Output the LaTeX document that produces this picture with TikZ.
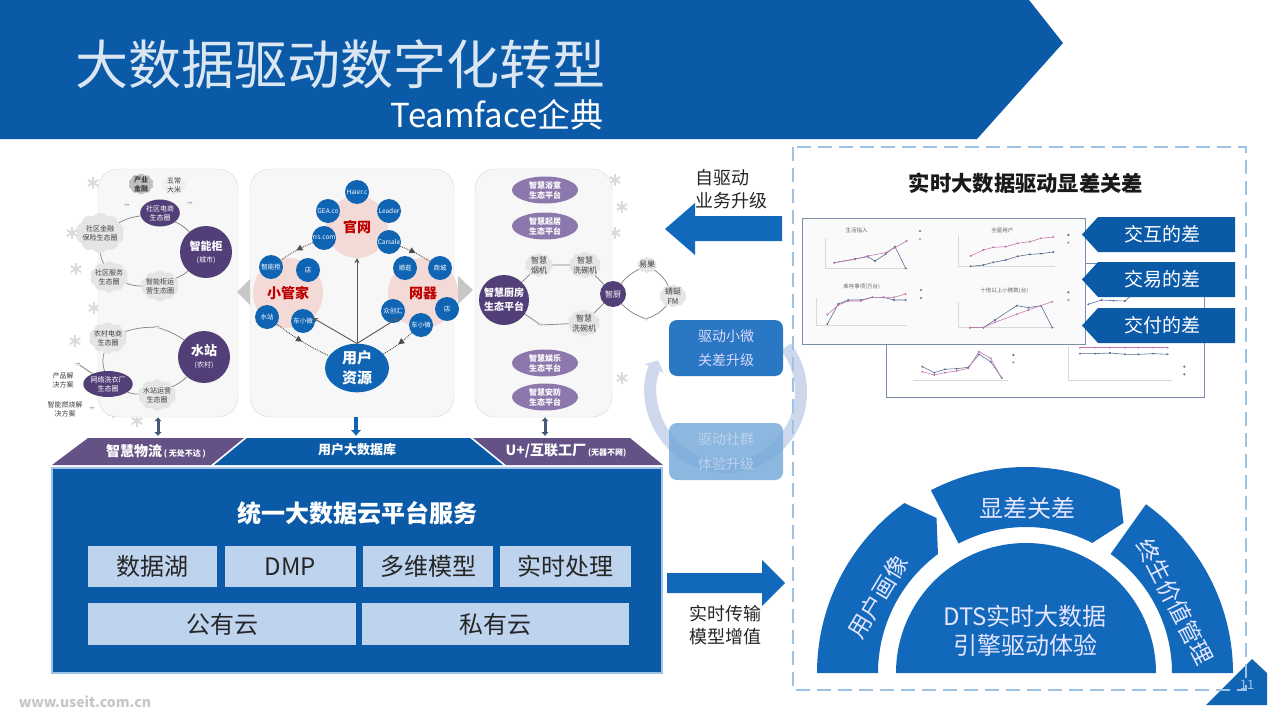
\documentclass[tikz,border=0pt]{standalone}
\usepackage{fontspec}
\setmainfont{Noto Sans CJK SC}
\usetikzlibrary{arrows.meta,shapes.geometric,shapes.symbols,decorations.markings}
\definecolor{bandblue}{HTML}{0B5AA8}
\definecolor{midblue}{HTML}{0F64B4}
\definecolor{archblue}{HTML}{1269BC}
\definecolor{cellblue}{HTML}{BDD3EE}
\definecolor{darkplum}{HTML}{533F78}
\definecolor{softplum}{HTML}{8D78AE}
\definecolor{rosefill}{HTML}{F3DAD6}
\definecolor{ringblue}{HTML}{CDD8EC}
\definecolor{framelight}{HTML}{9DC3E6}
\definecolor{linegray}{HTML}{596E96}
\definecolor{linepink}{HTML}{C77BAE}
\newcommand{\fs}[2]{\fontsize{#1}{#2}\selectfont}
\tikzset{
    panelbox/.style={draw=black!15,fill=black!3,rounded corners=20pt,inner sep=0pt},
    plumball/.style={circle,fill=darkplum,text=white,align=center,inner sep=0pt},
    plumoval/.style={ellipse,fill=darkplum,text=white,align=center,inner sep=0pt,font=\fs{7}{9}},
    softoval/.style={ellipse,fill=softplum,text=white,align=center,inner sep=0pt,minimum width=66pt,minimum height=27pt,font=\fs{8}{10}\bfseries},
    puff/.style={cloud,cloud puffs=10,cloud puff arc=110,aspect=1.3,fill=black!10,text=black!75,align=center,inner sep=-1.5pt,font=\fs{7}{9}},
    rosecircle/.style={circle,fill=rosefill,text=red!75!black,inner sep=0pt,font=\fs{14}{16}\bfseries},
    bluedot/.style={circle,fill=midblue,text=white,inner sep=0pt,minimum size=24pt,font=\fs{6.5}{8}},
    linkline/.style={draw=black!50,line width=.7pt},
    pushline/.style={draw=black!65,line width=.9pt,-{Stealth[length=5pt,width=5pt]}},
    dotline/.style={draw=black!70,line width=.9pt,densely dotted,postaction={decorate},
        decoration={markings,mark=at position .5 with {\arrow{Triangle[length=6pt,width=6pt]}}}},
    cellbox/.style={fill=cellblue,text=black!85,inner sep=0pt,minimum height=41pt,font=\fs{24}{28}},
    linkbar/.style={draw=#1,line width=3pt,{Latex[length=4pt,width=8pt]}-{Latex[length=4pt,width=8pt]}},
    tagarrow/.style={fill=bandblue},
    chartgray/.style={draw=linegray,line width=.6pt,mark=*,mark size=.6pt},
    chartpink/.style={draw=linepink,line width=.6pt,mark=*,mark size=.6pt},
    chartaxis/.style={draw=black!15,line width=.4pt},
    charthead/.style={text=black!60,inner sep=0pt,font=\fs{5.5}{6}},
    flake/.style={draw=black!14,line width=2pt},
}
\newcommand{\snowflake}[2]{\foreach \a in {30,90,150} \draw[flake] ({#1+6*cos(\a)},{#2+6*sin(\a)}) -- ({#1-6*cos(\a)},{#2-6*sin(\a)});}
\begin{document}
\begin{tikzpicture}[x=1pt,y=-1pt]
    \useasboundingbox (0,0) rectangle (1269,709);
    \fill[white] (0,0) rectangle (1269,709);
    % header
    \fill[bandblue] (0,0) -- (1029,0) -- (1063,43) -- (977,139) -- (0,139) -- cycle;
    \node[text=white!85!bandblue,inner sep=0pt,font=\fs{53}{60}] (title) at (340,64) {大数据驱动数字化转型};
    \node[text=white,inner sep=0pt,font=\fs{33}{38},anchor=east] (subtitle) at (604,115) {Teamface企典};
    % three panels
    \foreach \x/\y in {93/183,72/233,76/269,94/308,75/341,113/412,137/421,622/207,615/180,615/233,602/345,622/378,588/378,602/407} {
        \snowflake{\x}{\y}
    }
    \node[panelbox,minimum width=140pt,minimum height=248pt] (leftpanel) at (168,293) {};
    \node[panelbox,minimum width=204pt,minimum height=248pt] (midpanel) at (352,293) {};
    \node[panelbox,minimum width=137pt,minimum height=248pt] (rightpanel) at (543.5,293) {};
    \fill[black!22] (250,279) -- (237,292) -- (250,305) -- cycle;
    \fill[black!22] (458,276) -- (473,290) -- (458,304) -- cycle;
    % left panel
    \node[puff,fill=black!25,font=\fs{7}{9}\bfseries] (chanye) at (141,184) {产业\\金融};
    \node[puff,fill=black!6] (wuchang) at (174,185) {五常\\大米};
    \node[puff] (dotsa) at (127,205) {...};
    \node[puff] (dotsb) at (190,203) {...};
    \node[plumoval,minimum width=38pt,minimum height=27pt] (dianshang) at (160,213) {社区电商\\生态圈};
    \node[puff] (jinrong) at (100,233) {社区金融\\保险生态圈};
    \node[plumball,minimum size=52pt] (guizi) at (206,252) {{\fs{11}{15}\bfseries 智能柜}\\{\fs{7}{10}(城市)}};
    \node[puff] (fuwu) at (109,277) {社区服务\\生态圈};
    \node[puff] (yunying) at (160,286) {智能柜运\\营生态圈};
    \node[puff] (dotsc) at (157,327) {...};
    \node[plumball,minimum size=52pt] (shuizhan) at (204,357) {{\fs{13}{16}\bfseries 水站}\\{\fs{7}{10}(农村)}};
    \node[puff] (nongcun) at (108,338) {农村电商\\生态圈};
    \node[puff] (dotsd) at (78,364) {...};
    \node[plumoval,minimum width=36pt,minimum height=26pt] (xiyi) at (108,384) {网络洗衣厂\\生态圈};
    \node[puff] (szyunying) at (157,395) {水站运营\\生态圈};
    \node[puff] (dotse) at (92,408) {...};
    \node[fill=white,text=black!75,inner sep=1pt,align=center,font=\fs{7}{9}] (chanpin) at (63,380) {产品解\\决方案};
    \node[fill=white,text=black!75,inner sep=1pt,align=center,font=\fs{7}{9}] (ranshao) at (65,409) {智能燃烧解\\决方案};
    \draw[linkline] (dianshang) to[bend left=10] (guizi);
    \draw[linkline] (dianshang) to[bend right=10] (jinrong);
    \draw[linkline] (jinrong) to[bend right=10] (fuwu);
    \draw[linkline] (fuwu) to[bend right=10] (yunying);
    \draw[linkline] (yunying) to[bend right=10] (guizi);
    \draw[linkline] (dotsc) to[bend left=8] (shuizhan);
    \draw[linkline] (dotsc) to[bend right=8] (nongcun);
    \draw[linkline] (nongcun) to[bend right=15] (xiyi);
    \draw[linkline] (dotsd) -- (xiyi);
    \draw[linkline] (xiyi) to[bend right=10] (szyunying);
    \draw[linkline] (szyunying) to[bend right=10] (shuizhan);
    % middle panel
    \node[rosecircle,minimum size=62pt] (guanwang) at (357,227) {官网};
    \node[rosecircle,minimum size=70pt] (guanjia) at (288,293) {小管家};
    \node[rosecircle,minimum size=70pt] (wangqi) at (423,293) {网器};
    \foreach \name/\x/\y/\txt in {haier/357/192/Haier.c,gea/328/211/GEA.co,leader/389/211/Leader,rrs/324/238/rrs.com,carsale/389/242/Carsale,
        zng/271/267/智能柜,dianl/308/270/店,shui/267/317/水站,chel/303/321/车小微,
        shun/405/268/顺逛,shang/440/268/商城,zhong/393/311/众创汇,dianr/447/309/店,cher/421/325/车小微} {
        \node[bluedot] (\name) at (\x,\y) {\txt};
    }
    \node[ellipse,fill=midblue,text=white,align=center,inner sep=0pt,minimum width=64pt,minimum height=48pt,font=\fs{15}{20}\bfseries] (yonghu) at (357,368) {用户\\资源};
    \draw[pushline] (yonghu.north) -- (guanjia.south east);
    \draw[pushline] (yonghu.north) -- (guanwang.south);
    \draw[pushline] (yonghu.north) -- (wangqi.south west);
    \draw[dotline] (rrs) to[bend right=6] (zng);
    \draw[dotline] (carsale) to[bend left=6] (shang);
    \draw[dotline] (shui) to[bend right=6] (yonghu);
    \draw[dotline] (cher) to[bend left=6] (yonghu);
    % right panel
    \node[softoval] (yushi) at (545,190) {智慧浴室\\生态平台};
    \node[softoval] (qiju) at (545,226) {智慧起居\\生态平台};
    \node[softoval] (yule) at (545,363) {智慧娱乐\\生态平台};
    \node[softoval] (anfang) at (545,397) {智慧安防\\生态平台};
    \node[plumball,minimum size=50pt,font=\fs{10}{14}\bfseries] (chufang) at (504,300) {智慧厨房\\生态平台};
    \node[puff,font=\fs{8}{10}] (yanji) at (539,265) {智慧\\烟机};
    \node[puff,font=\fs{8}{10}] (xiwana) at (585,265) {智慧\\洗碗机};
    \node[puff] (dotsf) at (541,325) {...};
    \node[puff,font=\fs{8}{10}] (xiwanb) at (584,323) {智慧\\洗碗机};
    \node[plumball,minimum size=26pt,font=\fs{8}{10}] (zhichu) at (613,294) {智厨};
    \node[puff,font=\fs{8}{10}] (yiguo) at (647,265) {易果};
    \node[puff,font=\fs{8}{10}] (qingting) at (673,296) {蜻蜓\\FM};
    \node[puff] (dotsg) at (646,319) {...};
    \draw[linkline] (chufang) -- (yanji);
    \draw[linkline] (yanji) -- (xiwana);
    \draw[linkline] (xiwana) -- (zhichu);
    \draw[linkline] (zhichu) -- (xiwanb);
    \draw[linkline] (xiwanb) -- (dotsf);
    \draw[linkline] (dotsf) -- (chufang);
    \draw[linkline] (zhichu) to[bend left=12] (yiguo);
    \draw[linkline] (yiguo) to[bend left=15] (qingting);
    \draw[linkline] (qingting) to[bend left=15] (dotsg);
    \draw[linkline] (dotsg) to[bend left=12] (zhichu);
    % band under the panels
    \fill[darkplum!90!white] (52,465) -- (88,438) -- (244,438) -- (211,465) -- cycle;
    \fill[bandblue] (214,465) -- (247,438) -- (470,438) -- (503,465) -- cycle;
    \fill[darkplum!90!white] (506,465) -- (473,438) -- (630,438) -- (663,465) -- cycle;
    \node[text=white,inner sep=0pt,font=\fs{14}{16}\bfseries] (wuliu) at (156,451) {智慧物流{\fs{8}{10}\ ( 无处不达 )}};
    \node[text=white,inner sep=0pt,font=\fs{13}{16}\bfseries] (shujuku) at (357,450) {用户大数据库};
    \node[text=white,inner sep=0pt,font=\fs{14}{16}\bfseries] (gongchang) at (566,451) {U+/互联工厂{\fs{8}{10}\ (无器不网)}};
    \coordinate (leftfoot) at (158,436);
    \coordinate (midfoot) at (356,436);
    \coordinate (rightfoot) at (545,436);
    \draw[linkbar=linegray!80!black] (leftpanel.south -| leftfoot) -- (leftfoot);
    \draw[line width=4pt,draw=midblue,-{Latex[length=6pt,width=11pt]}] (midpanel.south -| midfoot) -- (midfoot);
    \draw[linkbar=linegray!80!black] (rightpanel.south -| rightfoot) -- (rightfoot);
    % cloud platform box
    \node[draw=framelight,line width=2pt,fill=bandblue,minimum width=610pt,minimum height=205pt,inner sep=0pt] (platform) at (357,570.5) {};
    \node[text=white,inner sep=0pt,font=\fs{24}{28}\bfseries] (platformtitle) at (357,513) {统一大数据云平台服务};
    \node[cellbox,minimum width=129pt] (shujuhu) at (152.5,566.5) {数据湖};
    \node[cellbox,minimum width=131pt] (dmp) at (290.5,566.5) {DMP};
    \node[cellbox,minimum width=130pt] (duowei) at (428,566.5) {多维模型};
    \node[cellbox,minimum width=131pt] (shishi) at (565.5,566.5) {实时处理};
    \node[cellbox,minimum width=268pt,minimum height=42pt] (gongyou) at (222,624) {公有云};
    \node[cellbox,minimum width=267pt,minimum height=42pt] (siyou) at (495.5,624) {私有云};
    % arrows in the middle
    \fill[archblue] (667,573) -- (762,573) -- (762,560) -- (785,583) -- (762,606) -- (762,593) -- (667,593) -- cycle;
    \node[text=black!85,inner sep=0pt,align=center,font=\fs{18}{23}] (chuanshu) at (725,625.5) {实时传输\\模型增值};
    \fill[archblue] (782,216) -- (695,216) -- (695,203) -- (665,229) -- (695,255) -- (695,241) -- (782,241) -- cycle;
    \node[text=black!85,inner sep=0pt,align=left,font=\fs{18}{23}] (shengji) at (731,189.5) {自驱动\\业务升级};
    % cycle
    \begin{scope}[shift={(726,392)},y=1pt]
        \draw[ringblue,line width=12pt,-{Triangle[length=9pt,width=20pt]}] (37:75) arc[start angle=37,end angle=-205,radius=75];
    \end{scope}
    \node[fill=black!0!blue!0!white,fill=archblue!90!white,rounded corners=8pt,minimum width=114pt,minimum height=56pt,inner sep=0pt,text=white!85!blue,align=center,font=\fs{14}{24}] (xiaowei) at (726,348) {驱动小微\\关差升级};
    \node[fill=framelight!70!archblue,fill opacity=.82,text opacity=1,rounded corners=8pt,minimum width=114pt,minimum height=57pt,inner sep=0pt,text=cellblue,align=center,font=\fs{14}{25}] (shequn) at (726,451.5) {驱动社群\\体验升级};
    % page number corner
    \fill[midblue] (1252,659) -- (1267,673) -- (1267,705) -- (1206,705) -- cycle;
    \node[text=framelight,inner sep=0pt,font=\fs{13}{14}] (pagenum) at (1247,685) {11};
    % dashed frame
    \draw[framelight,line width=2pt,dash pattern=on 14pt off 7pt] (793,147) rectangle (1246,690);
    \node[text=black!90,inner sep=0pt,font=\fs{21.3}{24}\bfseries] (righttitle) at (1026,183) {实时大数据驱动显差关差};
    % charts
    \node[draw=linegray!80,fill=white,minimum width=318pt,minimum height=134pt,inner sep=0pt] (backchart) at (1045,330) {};
    \node[draw=linegray!80,fill=black!2,minimum width=283pt,minimum height=126pt,inner sep=0pt] (frontchart) at (943.5,281) {};
    \begin{scope}[shift={(795,205)},x=.3333pt,y=-.3333pt]
        \draw[chartaxis] (355,525) -- (640,525) (820,525) -- (1130,525) (820,425) -- (820,525);
        \draw[chartaxis] (90,100) -- (90,190) -- (340,190) (490,90) -- (490,184) -- (780,184) (65,280) -- (65,360) -- (335,360) (490,290) -- (490,368) -- (780,368);
        \draw[chartgray] plot coordinates {(118,173) (180,162) (218,155) (240,168) (272,147) (300,125) (332,190)};
        \draw[chartpink] plot coordinates {(118,173) (180,163) (218,153) (272,143) (300,128) (335,108)};
        \draw[chartpink] plot coordinates {(527,153) (565,135) (595,127) (632,125) (668,115) (705,110) (738,100) (775,96)};
        \draw[chartgray] plot coordinates {(527,184) (565,180) (595,172) (632,165) (668,154) (705,148) (738,146) (775,141)};
        \draw[chartgray] plot coordinates {(97,357) (130,297) (160,285) (197,285) (232,277) (265,277) (297,285) (332,285)};
        \draw[chartpink] plot coordinates {(97,329) (130,300) (160,288) (197,288) (232,277) (265,277) (297,277) (332,267)};
        \draw[chartgray] plot coordinates {(525,368) (565,368) (600,345) (665,302) (700,308) (738,302) (772,368)};
        \draw[chartpink] plot coordinates {(525,368) (565,368) (600,352) (665,328) (700,315) (772,290)};
        \draw[chartgray] plot coordinates {(382,485) (418,503) (450,493) (485,491) (520,487) (552,448) (587,470) (620,518)};
        \draw[chartpink] plot coordinates {(382,500) (418,510) (450,503) (485,498) (520,490) (552,440) (587,460) (620,520)};
        \draw[chartpink] plot coordinates {(855,428) (900,428) (945,428) (990,428) (1030,428) (1075,428) (1118,428)};
        \draw[chartgray] plot coordinates {(855,446) (900,446) (945,444) (990,448) (1030,448) (1075,446) (1118,448)};
        \draw[chartgray] plot coordinates {(880,298) (920,285) (955,287) (990,288) (1010,270)};
        \foreach \x/\y/\c in {375/78/linegray,375/102/linepink,820/90/linegray,820/113/linepink,378/255/linegray,378/279/linegray,820/262/linegray,820/285/linepink,655/450/linegray,655/472/linepink,1168/485/linegray,1168/508/linegray} {
            \fill[\c] (\x,\y) circle (1.2pt);
        }
        \node[charthead] (charta) at (185,75) {生活指入};
        \node[charthead] (chartb) at (622,75) {全屋用户};
        \node[charthead] (chartc) at (200,245) {库存事项(万台)};
        \node[charthead] (chartd) at (628,257) {十倍以上小微数(台)};
    \end{scope}
    \foreach \y/\txt in {217/交互的差,262/交易的差,308/交付的差} {
        \fill[tagarrow] (1082,\y+17.5) -- (1098,\y) -- (1235,\y) -- (1235,\y+35) -- (1098,\y+35) -- cycle;
        \node[text=white,inner sep=0pt,font=\fs{19}{22}] at (1162,\y+17.5) {\txt};
    }
    % arches
    \begin{scope}[shift={(1026,673)},y=1pt]
        \fill[archblue] (-130,0) arc[start angle=180,end angle=0,radius=130] -- cycle;
        \fill[archblue] (180:209) arc[start angle=180,end angle=125.6,radius=209] -- (120:179) -- (126.5:148) arc[start angle=126.5,end angle=180,radius=148] -- cycle;
        \fill[archblue] (117.5:206) arc[start angle=117.5,end angle=63,radius=206] -- (57:179) -- (63:146) arc[start angle=63,end angle=117.5,radius=146] -- cycle;
        \fill[archblue] (54.6:207) arc[start angle=54.6,end angle=0,radius=207] -- (0:146) arc[start angle=0,end angle=54.6,radius=146] -- cycle;
        \node[text=white!90!blue,inner sep=0pt,rotate=59,font=\fs{23}{26}] (huaxiang) at (-148,76) {用户画像};
        \node[text=white!90!blue,inner sep=0pt,font=\fs{24}{27}] (xiancha) at (1,165) {显差关差};
        \node[text=white!90!blue,inner sep=0pt,rotate=-63,font=\fs{23}{26}] (shengming) at (149,71) {终生价值管理};
        \node[text=white!90!blue,inner sep=0pt,align=center,font=\fs{24}{29}] (yinqing) at (-1,42) {DTS实时大数据\\引擎驱动体验};
    \end{scope}
    % watermark
    \node[text=black!22,inner sep=0pt,font=\fs{14}{16}\bfseries\itshape] (siteurl) at (85,702) {www.useit.com.cn};
\end{tikzpicture}
\end{document}
